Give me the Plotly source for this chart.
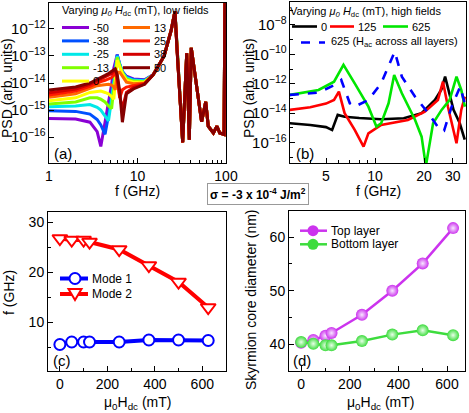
import plotly.graph_objects as go

W, H = 469, 413
FONT = "Arial, 'Liberation Sans', sans-serif"

# ---- (a) PSD, low fields (values are log10 of PSD) ----
LOW_FIELDS = [-50, -38, -25, -13, 0, 13, 25, 38, 50]
LOW_COLORS = ["#8a00d4", "#0050ff", "#00e8e8", "#80ff00", "#ffff00",
              "#ff6a00", "#ff1a00", "#d40000", "#850000"]
FREQ_LOW = [1, 2, 2.9, 3.5, 3.85, 4.3, 4.7, 5.1, 5.4, 5.6, 5.9, 6.3, 6.75, 7.5, 9, 12]
PSD_M50 = [-15.31, -15.33, -15.45, -15.8, -16.35, -15.5, -14.7, -14.05, -13.45, -13.2, -12.95, -13.33, -13.58, -13.75, -13.85, -13.88]
PSD_M38 = [-15.03, -15.05, -15.15, -15.35, -15.55, -15.9, -15.2, -14.4, -13.7, -13.3, -12.95, -13.3, -13.57, -13.77, -13.87, -13.9]
PSD_M25 = [-14.88, -14.85, -14.8, -14.9, -15.0, -15.2, -15.4, -14.6, -13.9, -13.45, -13.0, -13.32, -13.6, -13.8, -13.9, -13.92]
PSD_M13 = [-14.78, -14.7, -14.55, -14.55, -14.6, -14.7, -14.85, -14.95, -14.2, -13.6, -13.05, -13.35, -13.62, -13.85, -13.93, -13.95]
PSD_P0 = [-14.66, -14.55, -14.35, -14.3, -14.3, -14.35, -14.4, -14.5, -14.6, -14.0, -13.15, -13.4, -13.65, -13.9, -13.97, -13.97]
PSD_P13 = [-14.53, -14.4, -14.2, -14.1, -14.08, -14.05, -14.05, -14.08, -14.15, -14.25, -13.6, -13.6, -13.75, -13.97, -14.03, -14.0]
PSD_P25 = [-14.44, -14.3, -14.12, -14.0, -13.95, -13.9, -13.85, -13.8, -13.7, -13.55, -13.9, -14.55, -14.25, -14.15, -14.1, -14.02]
PSD_P38 = [-14.36, -14.22, -14.05, -13.92, -13.85, -13.78, -13.72, -13.65, -13.55, -13.47, -13.75, -14.5, -14.95, -14.35, -14.17, -14.04]
PSD_P50 = [-14.26, -14.15, -14.0, -13.88, -13.8, -13.72, -13.65, -13.58, -13.52, -13.48, -13.7, -14.3, -15.45, -14.4, -14.22, -14.05]
LOW_PSD = [PSD_M50, PSD_M38, PSD_M25, PSD_M13, PSD_P0, PSD_P13, PSD_P25, PSD_P38, PSD_P50]
# above ~12 GHz all low-field curves coincide
FREQ_TAIL = [15, 20, 24, 26.5, 28, 30, 31.5, 32.4, 36, 38.5, 40.5, 53, 59, 63, 72, 79, 85, 95, 97.5]
PSD_TAIL = [-13.7, -13.0, -12.05, -11.35, -12.78, -14.4, -15.5, -16.2, -12.9, -16.1, -12.7,
            -15.43, -14.7, -15.6, -15.85, -15.6, -15.85, -15.9, -10.5]

# ---- (b) PSD, high fields ----
F_H0 = [3.0, 4.0, 5.0, 5.45, 5.9, 6.5, 8, 10.9, 15, 19.3, 23.3, 25.5, 26.9, 28.5, 30.3, 33.1, 35.5]
P_H0 = [-14.69, -14.8, -14.95, -15.15, -14.12, -14.24, -14.33, -14.41, -14.35, -14.0, -13.1, -12.4, -11.52, -12.7, -13.78, -14.69, -15.8]
F_H125 = [3.0, 4.0, 5.0, 5.6, 6.0, 6.5, 7.5, 8.5, 9.1, 10.9, 15.9, 20.2, 24.3, 26.1, 28.0, 30, 31.6, 33.8, 35.6]
P_H125 = [-13.78, -13.6, -13.35, -13.1, -12.54, -14.0, -15.14, -16.28, -15.37, -14.8, -14.46, -13.9, -13.1, -11.86, -13.56, -15.0, -16.05, -13.78, -12.88]
F_H625 = [3.0, 4.5, 5.6, 6.4, 7.5, 9.1, 10.2, 10.9, 12.1, 13.1, 14.6, 17.6, 19.3, 20.5, 22.7, 25.6, 28.7, 31.6, 33.8, 35.6]
P_H625 = [-12.76, -12.42, -11.86, -10.72, -11.97, -13.56, -14.92, -14.69, -13.33, -11.4, -12.65, -14.46, -15.6, -17.6, -14.69, -13.78, -13.1, -11.52, -12.42, -13.56]
F_H625_ALL = [3.0, 4.5, 5.6, 6.2, 7.0, 7.5, 9.1, 10.9, 13.2, 14.6, 17.6, 21.2, 25.0, 26.5, 29.5, 32.5, 33.3, 35.5]
P_H625_ALL = [-12.76, -12.6, -12.1, -11.74, -13.33, -13.56, -13.1, -11.97, -9.82, -11.52, -12.88, -14.0, -15.14, -15.2, -13.56, -12.42, -12.2, -13.33]

# ---- (c) mode frequencies, (d) core diameter ----
FIELD_DC = [0, 50, 100, 125, 250, 375, 500, 625]
MODE1_GHZ = [5.5, 6.0, 6.0, 6.0, 6.0, 6.4, 6.4, 6.3]
MODE2_GHZ = [26.7, 26.4, 26.4, 26.0, 24.5, 21.3, 18.0, 12.9]
TOP_NM = [40.3, 40.8, 41.6, 42.1, 45.5, 50.0, 55.1, 61.7]
BOTTOM_NM = [40.4, 40.1, 39.8, 39.8, 40.6, 41.8, 42.6, 41.7]


def px(x):
    return x / W


def py(y):
    return 1 - y / H


def text(fig, x, y, s, size=14, xanchor="center", **kw):
    fig.add_annotation(x=px(x), y=py(y), xref="paper", yref="paper", text=s,
                       xanchor=xanchor, yanchor="middle", showarrow=False,
                       font=dict(size=size, color="black", family=FONT), **kw)


def legend_line(fig, x0, x1, y, color, label, width=3, dash=None, tx=None, size=11):
    fig.add_shape(type="line", xref="paper", yref="paper", x0=px(x0), x1=px(x1),
                  y0=py(y), y1=py(y), line=dict(color=color, width=width, dash=dash))
    text(fig, tx if tx is not None else x1 + 2, y, label, size=size, xanchor="left")


fig = go.Figure()

for field, color, low in zip(LOW_FIELDS, LOW_COLORS, LOW_PSD):
    fig.add_trace(go.Scatter(
        x=FREQ_LOW + FREQ_TAIL, y=[10 ** v for v in low + PSD_TAIL],
        mode="lines", line=dict(color=color, width=3), name=str(field),
        xaxis="x", yaxis="y"))

for f, p, color, dash, name in [
        (F_H0, P_H0, "black", None, "0"),
        (F_H125, P_H125, "#ff0000", None, "125"),
        (F_H625, P_H625, "#00e600", None, "625"),
        (F_H625_ALL, P_H625_ALL, "#0000ff", "dash", "625 all")]:
    fig.add_trace(go.Scatter(
        x=f, y=[10 ** v for v in p], mode="lines", name=name,
        line=dict(color=color, width=2.6, dash=dash), xaxis="x2", yaxis="y2"))

fig.add_trace(go.Scatter(
    x=FIELD_DC, y=MODE1_GHZ, mode="lines+markers", name="Mode 1", xaxis="x3", yaxis="y3",
    line=dict(color="#0000ff", width=4),
    marker=dict(symbol="circle", size=11, color="white", line=dict(color="#0000ff", width=2))))
fig.add_trace(go.Scatter(
    x=FIELD_DC, y=MODE2_GHZ, mode="lines+markers", name="Mode 2", xaxis="x3", yaxis="y3",
    line=dict(color="#ff0000", width=4),
    marker=dict(symbol="triangle-down", size=13, color="white", line=dict(color="#ff0000", width=2))))

for vals, color, name in [(TOP_NM, "#cc33ee", "Top layer"), (BOTTOM_NM, "#3ddc3d", "Bottom layer")]:
    fig.add_trace(go.Scatter(
        x=FIELD_DC, y=vals, mode="lines+markers", name=name, xaxis="x4", yaxis="y4",
        line=dict(color=color, width=2.5),
        marker=dict(size=12, color=color, line=dict(width=0),
                    gradient=dict(type="radial", color="#f8e8ff" if name == "Top layer" else "#e8ffe8"))))

axis_common = dict(showline=True, linecolor="black", linewidth=1, mirror=True, showgrid=False,
                   zeroline=False, ticks="inside", ticklen=5, tickcolor="black", automargin=False,
                   tickfont=dict(size=12, color="black", family=FONT))
minor_common = dict(ticks="inside", ticklen=3, tickcolor="black", showgrid=False)
big_ticks = dict(size=14, color="black", family=FONT)

fig.update_layout(
    width=W, height=H, margin=dict(l=0, r=0, t=0, b=0, autoexpand=False),
    paper_bgcolor="white", plot_bgcolor="white", showlegend=False,
    font=dict(family=FONT, color="black"),
    xaxis=dict(axis_common, type="log", range=[0, 2], domain=[px(49), px(226)], anchor="y",
               tickvals=[1, 10, 100], ticktext=["1", "10", "100"], tickfont=big_ticks,
               minor=dict(minor_common, tickvals=[2, 3, 4, 5, 6, 7, 8, 9, 20, 30, 40, 50, 60, 70, 80, 90])),
    yaxis=dict(axis_common, type="log", range=[-16.96, -11.04], domain=[py(163), py(3)], anchor="x",
               dtick=1, exponentformat="power"),
    xaxis2=dict(axis_common, type="log", range=[0.478, 1.558], domain=[px(290), px(466)], anchor="y2",
                tickvals=[5, 10, 20, 30], ticktext=["5", "10", "20", "30"], tickfont=big_ticks,
                minor=dict(minor_common, tickvals=[3, 4, 6, 7, 8, 9])),
    yaxis2=dict(axis_common, type="log", range=[-17.39, -6.44], domain=[py(163), py(2)], anchor="x2",
                dtick=2, exponentformat="power", minor=dict(minor_common, dtick=1)),
    xaxis3=dict(axis_common, range=[-50, 700], domain=[px(48), px(226)], anchor="y3",
                tickvals=[0, 200, 400, 600], minor=dict(minor_common, dtick=100), tickfont=big_ticks),
    yaxis3=dict(axis_common, range=[0.2, 32], domain=[py(371), py(212)], anchor="x3",
                tickvals=[10, 20, 30], minor=dict(minor_common, dtick=5), tickfont=big_ticks),
    xaxis4=dict(axis_common, range=[-50, 674], domain=[px(289), px(465)], anchor="y4",
                tickvals=[0, 200, 400, 600], minor=dict(minor_common, dtick=100), tickfont=big_ticks),
    yaxis4=dict(axis_common, range=[35, 64.9], domain=[py(371), py(211)], anchor="x4",
                tickvals=[40, 50, 60], minor=dict(minor_common, dtick=5), tickfont=big_ticks),
)

# axis titles
text(fig, 7, 88, "PSD (arb. units)", size=14, textangle=-90)
text(fig, 137, 191, "f (GHz)")
text(fig, 249, 88, "PSD (arb. units)", size=14, textangle=-90)
text(fig, 378, 191, "f (GHz)")
text(fig, 9, 293, "f (GHz)", textangle=-90)
text(fig, 137, 403, "μ<sub>0</sub>H<sub>dc</sub> (mT)")
text(fig, 251, 300, "Skyrmion core diameter (nm)", textangle=-90)
text(fig, 380, 403, "μ<sub>0</sub>H<sub>dc</sub> (mT)")

# panel labels
text(fig, 63, 153, "(a)", size=15)
text(fig, 305, 153, "(b)", size=15)
text(fig, 62, 360, "(c)", size=15)
text(fig, 302, 360, "(d)", size=15)

# sigma box
text(fig, 257.5, 194, "<b>σ = -3 x 10<sup>-4</sup> J/m<sup>2</sup></b>", size=12,
     bordercolor="#999999", borderwidth=1, borderpad=2, bgcolor="white")

# legend (a)
text(fig, 135, 11, "Varying <i>μ<sub>0</sub> H</i><sub>dc</sub> (mT), low fields", size=11)
for i, (field, color) in enumerate(zip(LOW_FIELDS, LOW_COLORS)):
    col, row = (0, i) if i < 5 else (1, i - 5)
    x0 = 62 if col == 0 else 123
    legend_line(fig, x0, x0 + 27, 27.5 + 13.4 * row, color, str(field))

# legend (b)
text(fig, 365, 12, "Varying <i>μ<sub>0</sub> H</i><sub>dc</sub> (mT), high fields", size=11)
legend_line(fig, 292, 317, 26.5, "black", "0", width=2.6)
legend_line(fig, 330, 354, 26.5, "#ff0000", "125", width=2.6)
legend_line(fig, 383, 408, 26.5, "#00e600", "625", width=2.6)
legend_line(fig, 301, 325, 42.5, "#0000ff", "625 (H<sub>ac</sub> across all layers)", width=2.6,
            dash="dash", tx=329)

# legend (c)
legend_line(fig, 60, 88, 278.5, "#0000ff", "Mode 1", width=4, size=12)
fig.add_shape(type="circle", xref="paper", yref="paper", x0=px(69.5), x1=px(80.5),
              y0=py(284), y1=py(273), fillcolor="white", line=dict(color="#0000ff", width=2))
legend_line(fig, 60, 88, 294, "#ff0000", "Mode 2", width=4, size=12)
fig.add_shape(type="path", xref="paper", yref="paper",
              path=f"M {px(68.5)},{py(289)} L {px(81.5)},{py(289)} L {px(75)},{py(300)} Z",
              fillcolor="white", line=dict(color="#ff0000", width=2))

# legend (d)
for y, color, label in [(230.7, "#cc33ee", "Top layer"), (244.3, "#3ddc3d", "Bottom layer")]:
    legend_line(fig, 300, 327, y, color, label, width=2.5, size=12)
    fig.add_shape(type="circle", xref="paper", yref="paper", x0=px(307.5), x1=px(318.5),
                  y0=py(y + 5.5), y1=py(y - 5.5), fillcolor=color, line=dict(width=0))

# page has a default 8px body margin; drop it so the figure sits at the window origin
fig.write_html("out.html", config={"displayModeBar": False},
               post_script="document.body.style.margin = '0';")
